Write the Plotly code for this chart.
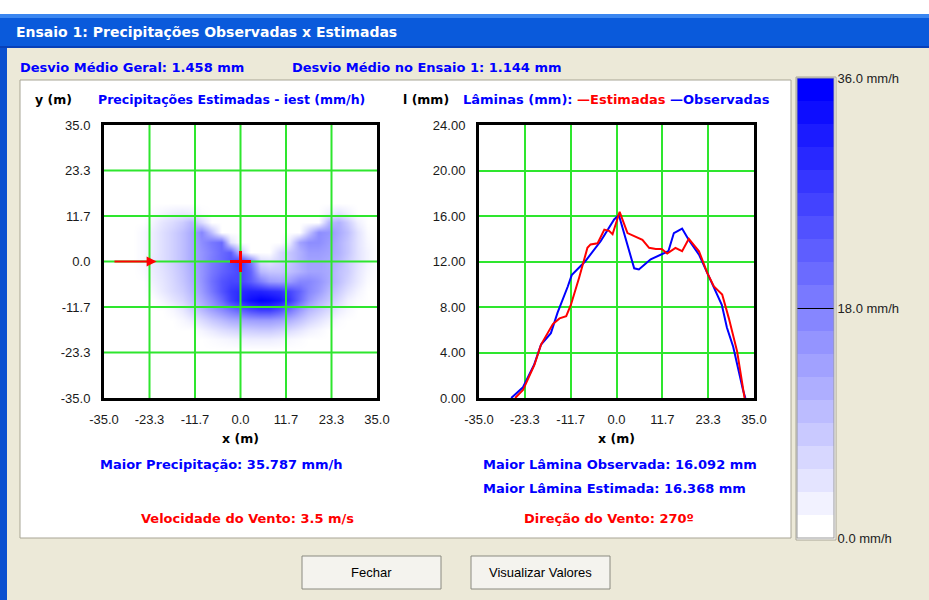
import plotly.graph_objects as go

W, H = 929, 600
FONT = "Liberation Sans"
BFONT = "DejaVu Sans"

# ---------------- data ----------------
# Estimated precipitation grid (mm/h); rows from top (y=15) to bottom (y=-22.5)
GRID_X = [-27.5, -25.0, -22.5, -20.0, -17.5, -15.0, -12.5, -10.0, -7.5, -5.0, -2.5, 0.0, 2.5,
          5.0, 7.5, 10.0, 12.5, 15.0, 17.5, 20.0, 22.5, 25.0, 27.5, 30.0, 32.5, 35.0]
GRID_Y = [15.0, 12.5, 10.0, 7.5, 5.0, 2.5, 0.0, -2.5, -5.0, -7.5, -10.0, -12.5, -15.0, -17.5, -20.0, -22.5]
IEST_ROWS = [
    [0, 0, 0, 0, 0, 0, 0, 0, 0, 0, 0, 0, 0, 0, 0, 0, 0, 0, 0, 0, 0, 0, 0, 0, 0, 0],
    [0, 0, 0.5, 1.5, 2.5, 3, 2.5, 0.5, 0, 0, 0, 0, 0, 0, 0, 0, 0, 0, 0, 0, 2, 4, 2, 0, 0, 0],
    [0, 0, 1.5, 3.5, 5, 7, 10, 5, 0, 0, 0, 0, 0, 0, 0, 0, 0, 0, 0, 0, 10, 11, 7, 2, 0, 0],
    [0, 1, 2.5, 4.5, 6.5, 9, 12, 17, 9, 0, 0, 0, 0, 0, 0, 0, 0, 0, 8, 16, 15, 12, 9, 4, 0.5, 0],
    [0, 1, 2.5, 4.5, 6.5, 9, 12, 16, 19, 21, 4, 0, 0, 0, 0, 0, 3, 13, 16, 16, 14, 11, 8, 4, 1, 0],
    [0, 1, 2.5, 4.5, 6.5, 9, 12, 15, 18, 21, 23, 8, 0, 0, 0, 5, 8, 11, 14, 14, 13, 11, 8, 4, 1.5, 0],
    [0, 1, 3, 4.5, 6.5, 9, 12, 15, 18.5, 21, 24, 28, 19, 5, 4, 6, 8, 11, 13, 13, 12, 10, 7, 4, 1.5, 0],
    [0, 0.5, 2.5, 4, 6, 8.5, 11.5, 15, 19, 22, 24, 26, 22, 10, 8, 8, 9, 11, 13, 13, 12, 9, 7, 3.5, 1, 0],
    [0, 0, 2, 3.5, 5.5, 8, 11, 15, 20, 24, 26, 26, 23, 18, 14, 13, 14, 17, 17, 15, 12, 9, 6, 3, 0.5, 0],
    [0, 0, 1, 3, 5, 7, 10, 14, 19, 24, 28, 30, 31, 31, 30, 29, 26, 22, 17, 14, 10, 7, 4, 1.5, 0, 0],
    [0, 0, 0, 1.5, 3.5, 5.5, 8.5, 12, 16, 21, 27, 31, 34, 35.8, 35, 33, 28, 21, 15, 11, 8, 5, 2, 0.5, 0, 0],
    [0, 0, 0, 0, 1, 3, 6, 9.5, 13, 16, 19, 22, 25, 27, 27, 24, 19, 14, 10, 7.5, 5, 2.5, 1, 0, 0, 0],
    [0, 0, 0, 0, 0, 1, 2.5, 5, 7.5, 9.5, 11.5, 12.5, 13.5, 14, 14, 13, 11, 8.5, 6, 4, 2, 0.5, 0, 0, 0, 0],
    [0, 0, 0, 0, 0, 0, 0, 1.5, 3, 4.5, 5.5, 6.5, 7, 7.5, 7.5, 6.5, 5, 3.5, 2, 1, 0, 0, 0, 0, 0, 0],
    [0, 0, 0, 0, 0, 0, 0, 0, 0.5, 1, 1.5, 2, 2.5, 2.5, 2.5, 2, 1, 0.5, 0, 0, 0, 0, 0, 0, 0, 0],
    [0, 0, 0, 0, 0, 0, 0, 0, 0, 0, 0, 0, 0, 0, 0, 0, 0, 0, 0, 0, 0, 0, 0, 0, 0, 0],
]

# Water depth profiles (mm) along x (m)
X_OBS = [-26.8, -23.8, -21.0, -19.2, -16.7, -15.0, -12.4, -11.4, -8.0, -4.0, -0.6, 0.6, 4.5, 5.7,
         8.7, 11.7, 13.2, 14.6, 16.7, 18.4, 21.0, 23.1, 26.8, 28.1, 29.7, 32.2, 32.8]
L_OBS = [0.0, 0.94, 2.9, 4.7, 5.7, 7.5, 9.8, 10.8, 12.0, 13.8, 15.7, 16.09, 11.4, 11.3,
         12.2, 12.7, 12.9, 14.5, 14.9, 13.9, 12.6, 11.0, 8.2, 6.2, 4.5, 0.7, 0.0]
X_EST = [-25.8, -23.8, -20.9, -19.2, -16.2, -14.5, -12.8, -11.6, -9.5, -7.4, -6.6, -4.8, -3.1, -1.9,
         -1.0, 0.8, 2.8, 4.5, 6.6, 8.3, 10.0, 11.5, 12.9, 15.0, 16.7, 18.4, 21.0, 23.1, 24.8, 26.9,
         28.6, 30.7, 32.6]
L_EST = [0.0, 0.7, 2.9, 4.7, 6.5, 7.0, 7.2, 8.2, 10.6, 13.2, 13.5, 13.6, 14.8, 14.7,
         14.4, 16.37, 14.5, 14.2, 13.9, 13.2, 13.1, 13.1, 12.7, 13.2, 12.9, 14.0, 12.9, 11.0, 9.8, 9.1,
         7.0, 4.1, 0.0]

MAP_TICKS = [-35.0, -23.333, -11.667, 0.0, 11.667, 23.333, 35.0]
MAP_TICK_TEXT = ["-35.0", "-23.3", "-11.7", "0.0", "11.7", "23.3", "35.0"]
LAM_TICKS = [0, 4, 8, 12, 16, 20, 24]
LAM_TICK_TEXT = ["0.00", "4.00", "8.00", "12.00", "16.00", "20.00", "24.00"]
CBAR_RANGE = [0, 36]
CBAR_TICKS = [0, 18, 36]
CBAR_TEXT = ["0.0 mm/h", "18.0 mm/h", "36.0 mm/h"]
SPRINKLER_X = [0.0]
SPRINKLER_Y = [0.0]
WIND_X = [-32.7, -21.5]
WIND_Y = [0.0, 0.0]


def px(x):
    return x / W


def py(y):
    return 1 - y / H


# discrete 20-band white -> blue scale for the colour bar, continuous for the map
N_BANDS = 20
band_scale = []
for i in range(N_BANDS):
    v = round(255 * (1 - i / (N_BANDS - 1)))
    c = f"rgb({v},{v},255)"
    band_scale += [[i / N_BANDS, c], [(i + 1) / N_BANDS, c]]
smooth_scale = [[0, "rgb(255,255,255)"], [1, "rgb(0,0,255)"]]

GREEN = "#2EE62E"

fig = go.Figure()

fig.add_trace(go.Heatmap(
    x=GRID_X, y=GRID_Y[::-1], z=IEST_ROWS[::-1], zmin=CBAR_RANGE[0], zmax=CBAR_RANGE[1], zsmooth="best",
    colorscale=smooth_scale, xaxis="x", yaxis="y", hoverinfo="skip", showscale=False,
))

# colour bar (legend of the map)
fig.add_trace(go.Scatter(
    x=[None], y=[None], mode="markers", xaxis="x", yaxis="y", hoverinfo="skip", showlegend=False,
    marker=dict(color=[CBAR_RANGE[0]], cmin=CBAR_RANGE[0], cmax=CBAR_RANGE[1], colorscale=band_scale,
                showscale=True,
                colorbar=dict(thickness=37, thicknessmode="pixels", len=460, lenmode="pixels",
                              x=px(797), xanchor="left", xpad=0, y=py(78), yanchor="top", ypad=0,
                              outlinewidth=1, outlinecolor="#9A9A9A",
                              tickmode="array", tickvals=CBAR_TICKS, ticktext=CBAR_TEXT,
                              ticks="inside", ticklen=37, tickcolor="black", tickwidth=1,
                              tickfont=dict(family=FONT, size=13, color="#222222"))),
))

# grid of the map drawn above the heatmap
gx, gy = [], []
lo, hi = MAP_TICKS[0], MAP_TICKS[-1]
for v in MAP_TICKS[1:-1]:
    gx += [v, v, None, lo, hi, None]
    gy += [lo, hi, None, v, v, None]
fig.add_trace(go.Scatter(x=gx, y=gy, mode="lines", line=dict(color=GREEN, width=2),
                         hoverinfo="skip", showlegend=False, xaxis="x", yaxis="y"))

fig.add_trace(go.Scatter(x=SPRINKLER_X, y=SPRINKLER_Y, mode="markers",
                         marker=dict(symbol="cross-thin", size=15, line=dict(color="#FF0000", width=3)),
                         hoverinfo="skip", showlegend=False, xaxis="x", yaxis="y"))

fig.add_annotation(x=WIND_X[1], y=WIND_Y[1], ax=WIND_X[0], ay=WIND_Y[0], xref="x", yref="y",
                   axref="x", ayref="y", showarrow=True, arrowhead=2, arrowsize=1,
                   arrowwidth=2, arrowcolor="#FF0000", text="")

fig.add_trace(go.Scatter(x=X_OBS, y=L_OBS, mode="lines", name="Observadas",
                         line=dict(color="#0000FF", width=2), xaxis="x2", yaxis="y2", showlegend=False))
fig.add_trace(go.Scatter(x=X_EST, y=L_EST, mode="lines", name="Estimadas",
                         line=dict(color="#FF0000", width=2), xaxis="x2", yaxis="y2", showlegend=False))

axis_common = dict(showline=True, linecolor="black", linewidth=3, mirror=True, zeroline=False,
                   ticks="", tickmode="array", fixedrange=True, automargin=False,
                   tickfont=dict(family=FONT, size=13, color="#1A1A1A"))

fig.update_layout(
    width=W, height=H, margin=dict(l=0, r=0, t=0, b=0, pad=0, autoexpand=False), autosize=False,
    paper_bgcolor="#ECE9D8", plot_bgcolor="white", showlegend=False,
    xaxis=dict(domain=[px(104), px(377)], range=[-35, 35], tickvals=MAP_TICKS, ticktext=MAP_TICK_TEXT,
               showgrid=False, anchor="y", ticklabelstandoff=7, **axis_common),
    yaxis=dict(domain=[py(398), py(125)], range=[-35, 35], tickvals=MAP_TICKS, ticktext=MAP_TICK_TEXT,
               showgrid=False, anchor="x", ticklabelstandoff=8, **axis_common),
    xaxis2=dict(domain=[px(479), px(754)], range=[-35, 35], tickvals=MAP_TICKS, ticktext=MAP_TICK_TEXT,
                showgrid=True, gridcolor=GREEN, gridwidth=2, anchor="y2", ticklabelstandoff=7, **axis_common),
    yaxis2=dict(domain=[py(398), py(125)], range=[0, 24], tickvals=LAM_TICKS, ticktext=LAM_TICK_TEXT,
                showgrid=True, gridcolor=GREEN, gridwidth=2, anchor="x2", ticklabelstandoff=8, **axis_common),
)

shapes = []


def rect(x0, y0, x1, y1, fill, line="rgba(0,0,0,0)", lw=0):
    shapes.append(dict(type="rect", xref="paper", yref="paper", x0=px(x0), x1=px(x1), y0=py(y1), y1=py(y0),
                       fillcolor=fill, line=dict(color=line, width=lw), layer="below"))


rect(0, 0, W, 14, "white")
rect(0, 14, W, 48, "#0A5ADB")
rect(0, 14, W, 18, "#3A86F0")
rect(0, 46, W, 48, "#0740B8")
rect(0, 48, 7, H, "#0A50D0")
rect(20, 80, 791, 538, "white", "#A8A595", 1)
rect(796, 77, 836, 540, "white", "#A8A595", 1)
rect(302, 556, 441, 589, "#F4F3EE", "#8A8A80", 1)
rect(471, 556, 610, 589, "#F4F3EE", "#8A8A80", 1)
fig.update_layout(shapes=shapes)


def label(text, x, y, color="#0000FF", size=13, bold=True, xanchor="left", family=BFONT):
    fig.add_annotation(text=f"<b>{text}</b>" if bold else text, x=px(x), y=py(y), xref="paper",
                       yref="paper", xanchor=xanchor, yanchor="middle", showarrow=False,
                       font=dict(family=family, size=size, color=color))


label("Ensaio 1: Precipitações Observadas x Estimadas", 14, 32, color="white", size=14)
label("Desvio Médio Geral: 1.458 mm", 18, 68, size=13)
label("Desvio Médio no Ensaio 1: 1.144 mm", 290, 68, size=13)
label("y (m)", 33, 100, color="black", size=12.5)
label("Precipitações Estimadas - iest (mm/h)", 96, 100, size=12.5)
label("l (mm)", 401, 100, color="black", size=12.5)
label("Lâminas (mm): <span style='color:#FF0000'>—Estimadas</span> —Observadas", 461, 100)
label("x (m)", 240, 438, color="black", size=12.5, xanchor="center")
label("x (m)", 616, 438, color="black", size=12.5, xanchor="center")
label("Maior Precipitação: 35.787 mm/h", 221, 464, xanchor="center")
label("Velocidade do Vento: 3.5 m/s", 248, 518, color="#FF0000", xanchor="center")
label("Maior Lâmina Observada: 16.092 mm", 481, 464)
label("Maior Lâmina Estimada: 16.368 mm", 481, 489)
label("Direção do Vento: 270º", 609, 518, color="#FF0000", xanchor="center")
label("Fechar", 371.5, 572, color="black", size=13, bold=False, xanchor="center", family=FONT)
label("Visualizar Valores", 540.5, 572, color="black", size=13, bold=False, xanchor="center", family=FONT)

fig.write_html("out.html", config={"displayModeBar": False},
               post_script="document.body.style.margin='0';")
